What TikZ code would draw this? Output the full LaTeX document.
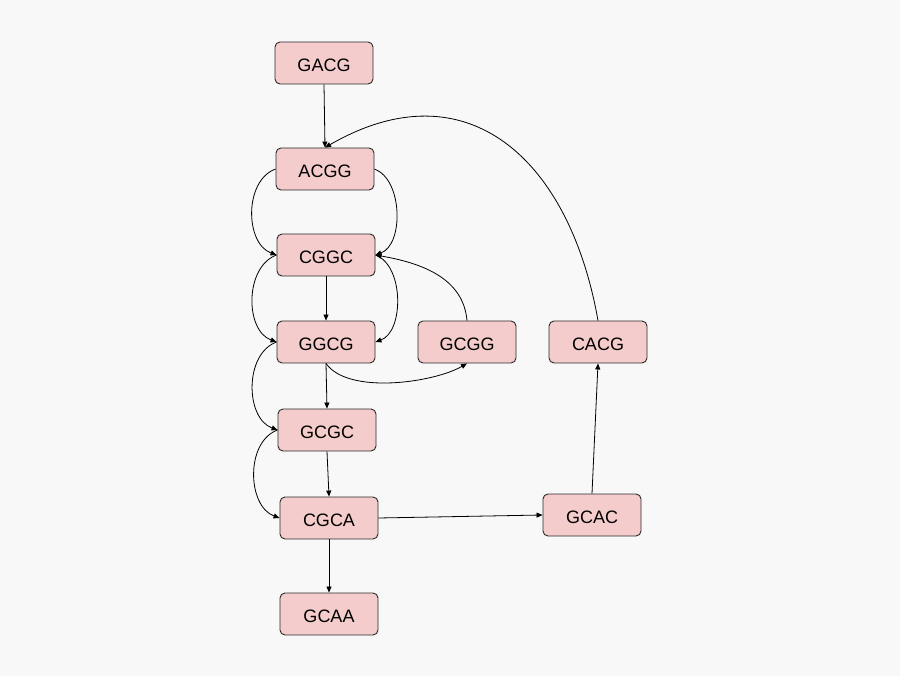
\documentclass[tikz,border=0pt]{standalone}
\usepackage{fontspec}
\setmainfont{Liberation Sans}
\usetikzlibrary{arrows.meta}
\definecolor{bg}{HTML}{F8F8F8}
\definecolor{boxfill}{HTML}{F4CCCC}
\definecolor{boxline}{HTML}{2A2A2A}
\begin{document}
\begin{tikzpicture}[x=1pt,y=-1pt,
  kmer/.style={draw=boxline,fill=boxfill,line width=0.9pt,rounded corners=5pt,
    minimum width=98pt,minimum height=42pt,inner sep=0pt,
    text height=17pt,text depth=0pt,
    font=\fontsize{18}{22}\selectfont},
  edge/.style={draw=black,line width=0.8pt,-{Triangle[length=6pt,width=5pt]}}]
\fill[bg] (0,0) rectangle (900,676);
\useasboundingbox (0,0) rectangle (900,676);
\node[kmer] (GACG) at (324,63) {GACG};
\node[kmer] (ACGG) at (325,169) {ACGG};
\node[kmer] (CGGC) at (326,255) {CGGC};
\node[kmer] (GGCG) at (326,342) {GGCG};
\node[kmer] (GCGG) at (467,342) {GCGG};
\node[kmer] (CACG) at (598,342) {CACG};
\node[kmer] (GCGC) at (327,430) {GCGC};
\node[kmer] (CGCA) at (329,518) {CGCA};
\node[kmer] (GCAC) at (592,515) {GCAC};
\node[kmer] (GCAA) at (329,614) {GCAA};

\draw[edge] (GACG.south) -- (ACGG.north);
\draw[edge] (CACG.north) to[out=100,in=30,looseness=1.3] (ACGG.north);
\draw[edge] (ACGG.west) to[out=200,in=160] (CGGC.west);
\draw[edge] (ACGG.east) to[out=-20,in=20,looseness=0.9] (CGGC.east);
\draw[edge] (CGGC.south) -- (GGCG.north);
\draw[edge] (CGGC.west) to[out=200,in=160] (GGCG.west);
\draw[edge] (CGGC.east) to[out=-20,in=20,looseness=0.9] (GGCG.east);
\draw[edge] (GCGG.north) to[out=95,in=-10] (CGGC.east);
\draw[edge] (GGCG.south) to[out=-55,in=-150,looseness=0.7] (GCGG.south);
\draw[edge] (GGCG.south) -- (GCGC.north);
\draw[edge] (GGCG.west) to[out=200,in=160] (GCGC.west);
\draw[edge] (GCGC.south) -- (CGCA.north);
\draw[edge] (GCGC.west) to[out=200,in=160] (CGCA.west);
\draw[edge] (CGCA.east) -- (GCAC.west);
\draw[edge] (CGCA.south) -- (GCAA.north);
\draw[edge] (GCAC.north) -- (CACG.south);
\end{tikzpicture}
\end{document}
